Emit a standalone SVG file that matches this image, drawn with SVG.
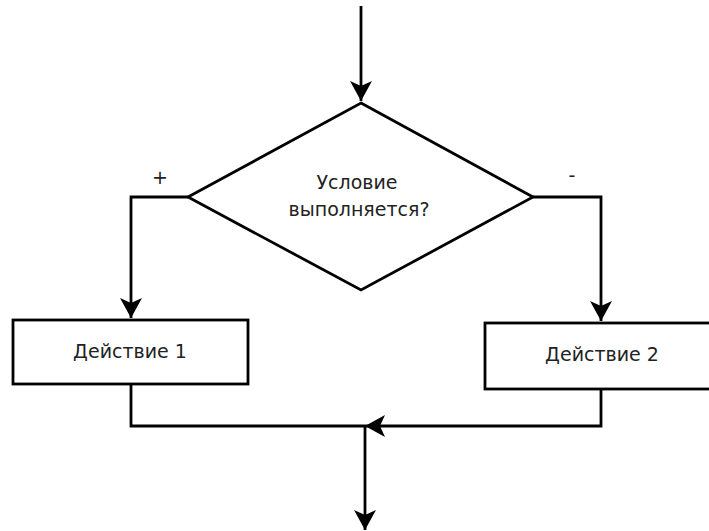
<svg xmlns="http://www.w3.org/2000/svg" width="709" height="531" viewBox="0 0 709 531">
<style>
.ln{fill:none;stroke:#000;stroke-width:2.8}
.shape{fill:#fff;stroke:#000;stroke-width:2.8}
.t{font-family:"DejaVu Sans",sans-serif;font-size:19px;fill:#222;text-anchor:middle}
</style>
<defs>
<marker id="ah" markerUnits="userSpaceOnUse" markerWidth="22" markerHeight="22" refX="20" refY="11" orient="auto">
<path d="M0,0 L20,11 L0,22 L5,11 z" fill="#000"/>
</marker>
</defs>
<g id="connectors">
<line class="ln" x1="361" y1="6" x2="361" y2="101" marker-end="url(#ah)"/>
<polyline class="ln" points="188,197 131,197 131,318" marker-end="url(#ah)"/>
<polyline class="ln" points="533,197 601,197 601,321" marker-end="url(#ah)"/>
<polyline class="ln" points="131,384 131,426 365,426"/>
<polyline class="ln" points="601,389 601,426 365,426" marker-end="url(#ah)"/>
<line class="ln" x1="365" y1="426" x2="365" y2="530" marker-end="url(#ah)"/>
</g>
<g id="decision">
<polygon class="shape" points="361,103 533,197 361,290 188,197"/>
<text class="t" x="357" y="189">Условие</text>
<text class="t" x="359" y="216">выполняется?</text>
</g>
<g id="action1">
<rect class="shape" x="13" y="320" width="235" height="64"/>
<text class="t" x="130" y="358">Действие 1</text>
</g>
<g id="action2">
<rect class="shape" x="485" y="323" width="233" height="66"/>
<text class="t" x="602" y="361">Действие 2</text>
</g>
<g id="labels">
<text class="t" x="160" y="184">+</text>
<text class="t" x="572" y="182">-</text>
</g>
</svg>
